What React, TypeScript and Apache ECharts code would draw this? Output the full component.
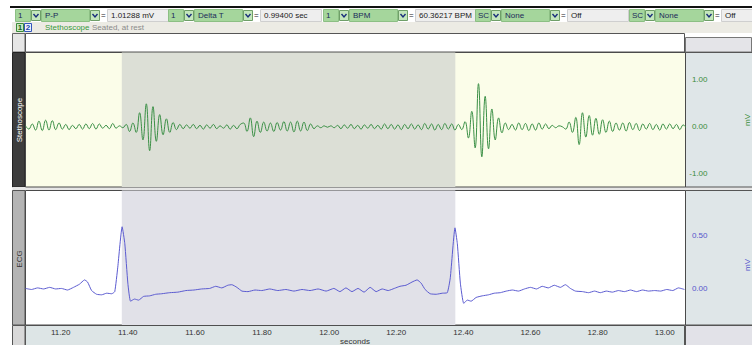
import React, { useEffect, useRef } from "react";
import * as echarts from "echarts";

// ---------- data ----------
const xMin = 11.095;
const xMax = 13.062;
const selStart = 11.382;
const selEnd = 12.376;

const stethoStart = 11.095;
const stethoStep = 0.01;
const stethoValues = [
  0.02, -0.05, 0.06, -0.07, 0.12, -0.08, 0.14, -0.07, 0.13, -0.06,
  0.08, -0.05, 0.05, -0.06, 0.03, -0.04, 0.05, -0.05, 0.06, -0.04,
  0.07, -0.05, 0.06, -0.03, 0.03, -0.04, 0.07, -0.03, 0.02, -0.02,
  0.05, -0.1, 0.08, -0.12, 0.3, -0.28, 0.49, -0.51, 0.43, -0.31,
  0.26, -0.17, 0.17, -0.12, 0.09, -0.06, 0.05, -0.04, 0.04, -0.03,
  0.05, -0.04, 0.03, -0.05, 0.04, -0.03, 0.05, -0.04, 0.02, -0.03,
  0.04, -0.05, 0.03, -0.04, 0.05, 0.08, -0.1, 0.19, -0.21, 0.12,
  -0.12, 0.1, -0.09, 0.08, -0.1, 0.09, -0.07, 0.11, -0.09, 0.1,
  -0.11, 0.12, -0.09, 0.1, -0.08, 0.06, -0.04, 0.02, -0.02, 0.02,
  -0.01, 0.02, -0.02, 0.03, -0.04, 0.04, -0.03, 0.05, -0.04, 0.03,
  -0.05, 0.04, -0.03, 0.05, -0.04, 0.03, -0.05, 0.06, -0.04, 0.05,
  -0.05, 0.04, -0.06, 0.05, -0.04, 0.06, -0.05, 0.04, -0.06, 0.07,
  -0.05, 0.06, -0.07, 0.05, -0.06, 0.07, -0.05, 0.06, -0.07, 0.05,
  -0.06, 0.11, -0.24, 0.33, -0.45, 0.92, -0.64, 0.65, -0.47, 0.38,
  -0.28, 0.19, -0.13, 0.08, -0.06, 0.05, -0.07, 0.08, -0.06, 0.07,
  -0.08, 0.06, -0.07, 0.08, -0.05, 0.06, -0.04, 0.03, -0.02, 0.02,
  0.0, -0.05, 0.1, -0.12, 0.2, -0.38, 0.3, -0.22, 0.24, -0.18,
  0.18, -0.16, 0.15, -0.12, 0.12, -0.1, 0.08, -0.07, 0.08, -0.09,
  0.09, -0.06, 0.07, -0.08, 0.06, -0.05, 0.07, -0.06, 0.05, -0.07,
  0.06, -0.05, 0.06, -0.04, 0.05, -0.06, 0.04, -0.03,
];

const ecgSamples: [number, number][] = [
  [11.095, 0.0], [11.113, -0.01], [11.131, 0.005], [11.149, -0.005], [11.167, 0.01],
  [11.185, -0.005], [11.202, 0.0], [11.22, -0.015], [11.238, 0.01], [11.256, 0.04],
  [11.271, 0.08], [11.28, 0.06], [11.292, -0.02], [11.307, -0.055], [11.322, -0.06],
  [11.337, -0.045], [11.352, -0.05], [11.361, -0.03], [11.37, 0.2], [11.383, 0.58],
  [11.391, 0.42], [11.4, 0.05], [11.408, -0.12], [11.42, -0.1], [11.432, -0.11],
  [11.447, -0.075], [11.465, -0.07], [11.483, -0.055], [11.501, -0.05], [11.525, -0.04],
  [11.549, -0.035], [11.573, -0.02], [11.597, -0.015], [11.62, -0.005], [11.644, 0.0],
  [11.662, 0.02], [11.68, 0.005], [11.698, 0.03], [11.71, 0.035], [11.725, 0.01],
  [11.74, -0.025], [11.758, -0.03], [11.779, -0.015], [11.799, -0.02], [11.823, -0.005],
  [11.847, -0.02], [11.871, -0.01], [11.895, -0.025], [11.919, -0.01], [11.943, -0.02],
  [11.967, -0.005], [11.991, -0.025], [12.014, 0.0], [12.032, -0.03], [12.05, 0.005],
  [12.068, -0.03], [12.086, 0.0], [12.104, -0.035], [12.122, 0.01], [12.14, -0.03],
  [12.158, -0.005], [12.176, -0.02], [12.194, 0.0], [12.211, 0.02], [12.229, 0.03],
  [12.247, 0.06], [12.262, 0.08], [12.274, 0.05], [12.286, -0.01], [12.301, -0.05],
  [12.319, -0.055], [12.337, -0.045], [12.352, -0.04], [12.361, 0.1], [12.375, 0.57],
  [12.382, 0.42], [12.391, 0.05], [12.401, -0.14], [12.412, -0.11], [12.423, -0.12],
  [12.438, -0.085], [12.456, -0.07], [12.475, -0.06], [12.492, -0.045], [12.51, -0.04],
  [12.528, -0.025], [12.546, -0.015], [12.564, -0.025], [12.582, -0.005], [12.6, 0.01],
  [12.618, -0.005], [12.635, 0.02], [12.653, 0.005], [12.671, 0.03], [12.689, 0.01],
  [12.704, 0.035], [12.719, 0.0], [12.734, -0.025], [12.755, -0.03], [12.773, -0.04],
  [12.791, -0.025], [12.808, -0.04], [12.826, -0.025], [12.844, -0.035], [12.862, -0.02],
  [12.88, -0.03], [12.898, -0.015], [12.916, -0.03], [12.934, -0.015], [12.952, -0.025],
  [12.97, -0.02], [12.988, -0.025], [13.006, -0.01], [13.024, -0.02], [13.041, 0.005],
  [13.059, -0.01],
];

const measureChannels = ["1", "1", "1", "SC", "SC"];
const measureNames = ["P-P", "Delta T", "BPM", "None", "None"];
const measureResults = ["1.01288 mV", "0.99400 sec", "60.36217 BPM", "Off", "Off"];

// ---------- layout ----------
const toolbarX = [15, 168, 323, 475, 629];
const FONT = '"Liberation Sans", Arial, sans-serif';

const txt = (x: number, y: number, text: string, fill: string, size = 8, extra: any = {}) => ({
  type: "text",
  x,
  y,
  silent: true,
  rotation: extra.rotation || 0,
  z: 10,
  style: {
    text,
    fill,
    font: `${extra.bold ? "bold " : ""}${size}px ${FONT}`,
    align: extra.align || "left",
    verticalAlign: "middle",
  },
});

const rect = (x: number, y: number, w: number, h: number, fill: string, stroke?: string, z = -10) => ({
  type: "rect",
  silent: true,
  z,
  shape: { x, y, width: w, height: h },
  style: { fill, stroke: stroke || null, lineWidth: stroke ? 1 : 0 },
});

function buildChrome() {
  const els: any[] = [];
  els.push(rect(0, 0, 752, 345, "#ffffff", undefined, -20));
  els.push(rect(10, 6, 742, 2, "#111111"));
  // row 2
  els.push(rect(12, 22, 740, 11, "#ecebe4"));
  // row 3 white strip
  els.push(rect(12.5, 33.5, 12.5, 18.5, "#e6e6e6", "#666"));
  els.push(rect(25.5, 33.5, 659, 18.5, "#ffffff", "#555"));
  els.push(rect(685.5, 37.5, 66, 14.5, "#e4e4e8", "#777"));
  // left label panels
  els.push(rect(12.5, 52.5, 12.5, 134.5, "#3d3d3d", "#222"));
  els.push(rect(12.5, 187, 740, 3, "#e6e6e6"));
  els.push(rect(12.5, 190.5, 12.5, 134.5, "#b4b4b4", "#555"));
  els.push(rect(12.5, 325.5, 12.5, 20, "#d8d8d8", "#555"));
  // x-axis strip
  els.push(rect(25.5, 325.5, 659, 20, "#dde5e6", "#555"));
  // right panels
  els.push(rect(685.5, 52.5, 67, 134.5, "#dfe6e8", "#555"));
  els.push(rect(685.5, 190.5, 67, 134.5, "#dfe6e8", "#555"));
  els.push(rect(685.5, 325.5, 67, 20, "#e2e2e8", "#555"));

  // toolbar row 1
  toolbarX.forEach((gx, i) => {
    const y = 9.5;
    const h = 12;
    els.push(rect(gx + 0.5, y, 15, h, "#a5d69c", "#8cbf84"));
    els.push(txt(gx + 3, y + 6, measureChannels[i], "#1c2a5a", 8));
    els.push(rect(gx + 16.5, y + 1, 9, 10, "#c4e7bc", "#6f9f68"));
    els.push({
      type: "polyline",
      silent: true,
      z: 11,
      shape: { points: [[gx + 18.5, y + 4.5], [gx + 21, y + 7.5], [gx + 23.5, y + 4.5]] },
      style: { stroke: "#1a2f7a", lineWidth: 1.4, fill: null },
    });
    els.push(rect(gx + 26.5, y, 48, h, "#a5d69c", "#8cbf84"));
    els.push(txt(gx + 30, y + 6, measureNames[i], "#1c2a5a", 8));
    els.push(rect(gx + 75.5, y + 1, 9, 10, "#c4e7bc", "#6f9f68"));
    els.push({
      type: "polyline",
      silent: true,
      z: 11,
      shape: { points: [[gx + 77.5, y + 4.5], [gx + 80, y + 7.5], [gx + 82.5, y + 4.5]] },
      style: { stroke: "#1a2f7a", lineWidth: 1.4, fill: null },
    });
    els.push(txt(gx + 86, y + 6, "=", "#222", 8));
    const vw = i === 4 ? 752 - (gx + 92) : 61;
    els.push(rect(gx + 92.5, y, vw, h, "#eeeeee", "#cfcfcf"));
    els.push(txt(gx + 96, y + 6, measureResults[i], "#222", 8));
  });

  // toolbar row 2
  els.push(rect(16.5, 23.5, 7, 8, "#c8e8c0", "#3a8a3a"));
  els.push(txt(20, 27.5, "1", "#1e5e1e", 8, { align: "center", bold: true }));
  els.push(rect(24.5, 23.5, 7, 8, "#eef2fc", "#3355bb"));
  els.push(txt(28, 27.5, "2", "#2244aa", 8, { align: "center", bold: true }));
  els.push(txt(45, 27.5, "Stethoscope", "#3a9a3a", 8));
  els.push(txt(92, 27.5, "Seated, at rest", "#8a8a8a", 8));

  // rotated channel labels
  els.push(txt(19, 120, "Stethoscope", "#ffffff", 8, { rotation: Math.PI / 2, align: "center" }));
  els.push(txt(19, 259, "ECG", "#333333", 8, { rotation: Math.PI / 2, align: "center" }));
  els.push(txt(747, 120, "mV", "#3a8c3a", 8, { rotation: Math.PI / 2, align: "center" }));
  els.push(txt(747, 265, "mV", "#5555cc", 8, { rotation: Math.PI / 2, align: "center" }));
  els.push(txt(355, 341, "seconds", "#333333", 8, { align: "center" }));
  return els;
}

export default function App() {
  const ref = useRef<HTMLDivElement>(null);

  useEffect(() => {
    document.body.style.margin = "0";
    if (!ref.current) return;
    const chart = echarts.init(ref.current, null, { renderer: "svg" });
    const fmt = (v: number) => v.toFixed(2);
    chart.setOption({
      animation: false,
      graphic: { elements: buildChrome() },
      grid: [
        {
          left: 25.5, top: 52.5, width: 660, height: 134.5, show: true,
          backgroundColor: "#fbfde9", borderColor: "#4a4a4a", borderWidth: 1,
        },
        {
          left: 25.5, top: 190.5, width: 660, height: 134.5, show: true,
          backgroundColor: "#ffffff", borderColor: "#4a4a4a", borderWidth: 1,
        },
      ],
      xAxis: [
        {
          type: "value", gridIndex: 0, min: xMin, max: xMax,
          axisLine: { show: false }, axisTick: { show: false },
          axisLabel: { show: false }, splitLine: { show: false },
        },
        {
          type: "value", gridIndex: 1, min: xMin, max: xMax, splitNumber: 10,
          axisLine: { show: false }, axisTick: { show: false }, splitLine: { show: false },
          axisLabel: {
            show: true, formatter: fmt, color: "#333", fontSize: 8, fontFamily: FONT,
            margin: 3, showMinLabel: false, showMaxLabel: false,
          },
        },
      ],
      yAxis: [
        {
          type: "value", gridIndex: 0, position: "right", min: -1.285, max: 1.585, splitNumber: 3,
          axisLine: { show: false }, axisTick: { show: false }, splitLine: { show: false },
          axisLabel: {
            formatter: fmt, color: "#3a8c3a", fontSize: 8, fontFamily: FONT, align: "right",
            margin: 22, showMinLabel: false, showMaxLabel: false,
          },
        },
        {
          type: "value", gridIndex: 1, position: "right", min: -0.344, max: 0.921, splitNumber: 2,
          axisLine: { show: false }, axisTick: { show: false }, splitLine: { show: false },
          axisLabel: {
            formatter: fmt, color: "#5555cc", fontSize: 8, fontFamily: FONT, align: "right",
            margin: 22, showMinLabel: false, showMaxLabel: false,
          },
        },
      ],
      series: [
        {
          type: "line", xAxisIndex: 0, yAxisIndex: 0,
          data: stethoValues.map((v, i) => [stethoStart + i * stethoStep, v]),
          showSymbol: false, smooth: 0.45, silent: true,
          lineStyle: { color: "#3a8f45", width: 1 },
          markArea: {
            silent: true, itemStyle: { color: "#dcdfd6", opacity: 1 },
            data: [[{ xAxis: selStart }, { xAxis: selEnd }]],
          },
        },
        {
          type: "line", xAxisIndex: 1, yAxisIndex: 1,
          data: ecgSamples,
          showSymbol: false, smooth: 0.15, silent: true,
          lineStyle: { color: "#5b5bd0", width: 1 },
          markArea: {
            silent: true, itemStyle: { color: "#e1e1e8", opacity: 1 },
            data: [[{ xAxis: selStart }, { xAxis: selEnd }]],
          },
        },
      ],
    });
    return () => chart.dispose();
  }, []);

  return <div ref={ref} style={{ width: 752, height: 345 }} />;
}
